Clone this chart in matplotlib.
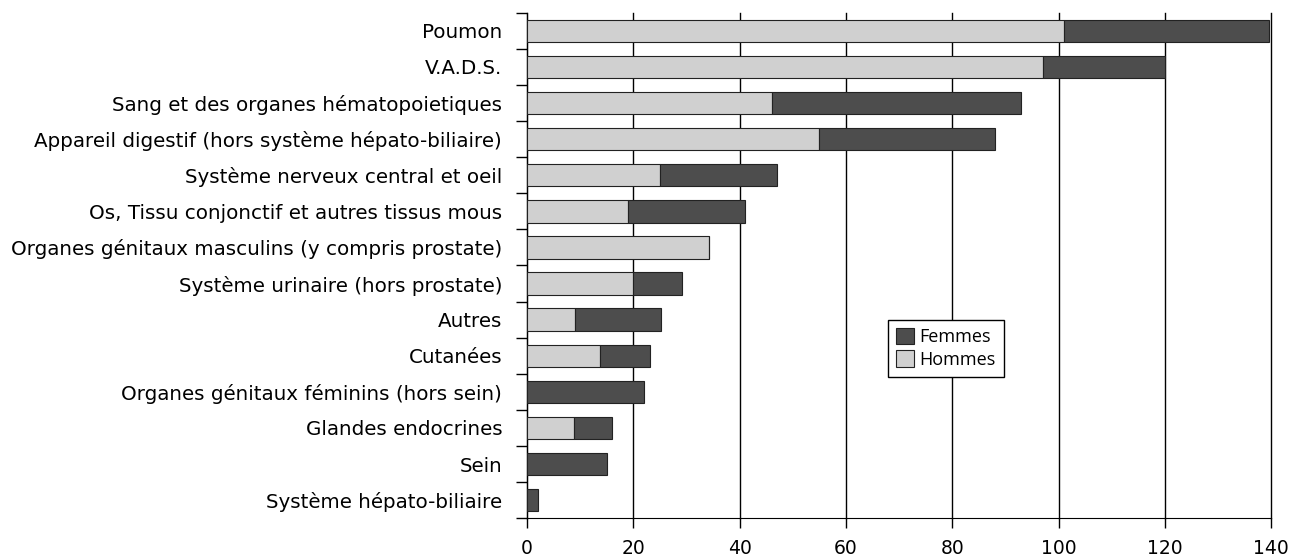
import matplotlib
matplotlib.use("Agg")
import matplotlib.pyplot as plt
import numpy as np

# Localisations, from top to bottom as in the original chart
categories = [
    "Poumon",
    "V.A.D.S.",
    "Sang et des organes hématopoietiques",
    "Appareil digestif (hors système hépato-biliaire)",
    "Système nerveux central et oeil",
    "Os, Tissu conjonctif et autres tissus mous",
    "Organes génitaux masculins (y compris prostate)",
    "Système urinaire (hors prostate)",
    "Autres",
    "Cutanées",
    "Organes génitaux féminins (hors sein)",
    "Glandes endocrines",
    "Sein",
    "Système hépato-biliaire",
]
hommes = [101, 97, 46, 55, 25, 19, 34.3, 20, 9, 13.8, 0, 8.8, 0, 0]
femmes = [38.5, 23, 47, 33, 22, 22, 0, 9.2, 16.2, 9.3, 22, 7.1, 15, 2]
xticks = [0, 20, 40, 60, 80, 100, 120, 140]

HOMMES_COLOR = "#d0d0d0"
FEMMES_COLOR = "#4d4d4d"

fig = plt.figure(figsize=(12.92, 5.56), dpi=100)
ax = fig.add_axes([0.408, 0.068, 0.576, 0.909])

y = np.arange(len(categories))
ax.barh(y, hommes, height=0.62, color=HOMMES_COLOR, edgecolor="#222222",
        linewidth=0.8, label="Hommes", zorder=3)
ax.barh(y, femmes, left=hommes, height=0.62, color=FEMMES_COLOR,
        edgecolor="#222222", linewidth=0.8, label="Femmes", zorder=3)

ax.set_xlim(0, 140)
ax.set_ylim(len(categories) - 0.5, -0.5)

# labels centred on the bars, tick marks on the category boundaries
ax.set_yticks(np.arange(len(categories) + 1) - 0.5)
ax.set_yticklabels([])
ax.set_yticks(y, minor=True)
ax.set_yticklabels(categories, minor=True, fontsize=14.3)
ax.tick_params(axis="y", which="major", length=8, width=1, direction="out")
ax.tick_params(axis="y", which="minor", length=0, pad=18)

ax.set_xticks(xticks)
ax.set_xticklabels([str(v) for v in xticks], fontsize=13.5)
ax.tick_params(axis="x", length=7, width=1, pad=8)

ax.grid(True, axis="x", color="black", linewidth=1, zorder=0)
for line in ax.get_xgridlines():
    line.set_clip_on(False)
ax.set_axisbelow(True)
ax.spines["top"].set_visible(False)
ax.spines["right"].set_visible(False)

handles, labels = ax.get_legend_handles_labels()
leg = ax.legend(handles[::-1], labels[::-1], loc="upper left",
                bbox_to_anchor=(0.485, 0.393), borderaxespad=0,
                frameon=True, fancybox=False, edgecolor="black",
                framealpha=1, borderpad=0.45, handlelength=1.0,
                handleheight=1.0, handletextpad=0.3, labelspacing=0.25,
                prop={"family": "Open Sans", "size": 13})
leg.get_frame().set_linewidth(1)

fig.savefig("out.png", dpi=100)
